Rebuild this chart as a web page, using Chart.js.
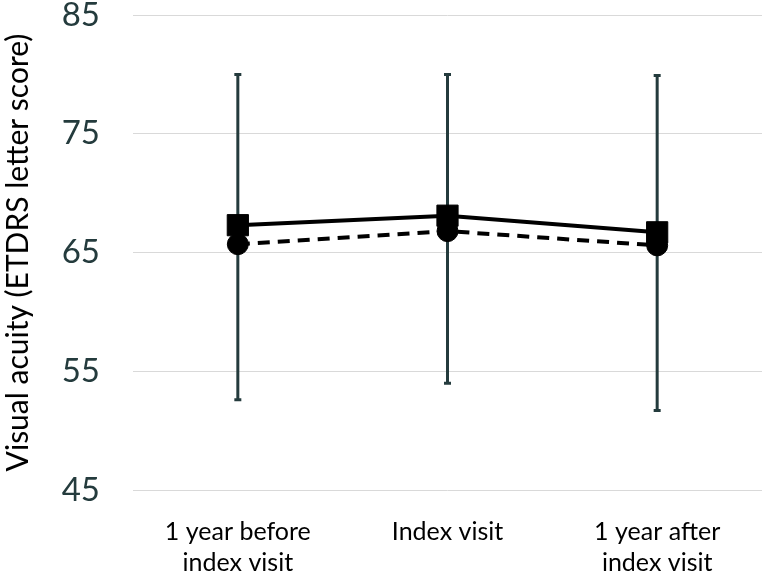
<!DOCTYPE html>
<html><head><meta charset="utf-8">
<script src="https://cdn.jsdelivr.net/npm/chart.js@4"></script>
<style>html,body{margin:0;padding:0;background:#fff;overflow:hidden}#w{width:762px;height:579px;position:relative}canvas{display:block}</style>
</head><body><div id="w"><canvas id="c"></canvas></div>
<script>
const categories = [["1 year before","index visit"], "Index visit", ["1 year after","index visit"]];
const solidValues = [67.3, 68.1, 66.7];
const dashedValues = [65.7, 66.8, 65.6];
const errLow = [52.6, 54.0, 51.7];
const errHigh = [80.0, 80.0, 79.9];
const yTicks = [45, 55, 65, 75, 85];

const errorBarPlugin = {
  id: 'errbars',
  beforeDatasetsDraw(chart) {
    const ctx = chart.ctx, x = chart.scales.x, y = chart.scales.y;
    ctx.save();
    ctx.strokeStyle = '#243b3d';
    ctx.lineWidth = 3;
    errLow.forEach((lo, i) => {
      const px = x.getPixelForValue(i);
      const yl = y.getPixelForValue(lo), yh = y.getPixelForValue(errHigh[i]);
      ctx.beginPath();
      ctx.moveTo(px, yl); ctx.lineTo(px, yh);
      ctx.moveTo(px - 3.5, yl); ctx.lineTo(px + 3.5, yl);
      ctx.moveTo(px - 3.5, yh); ctx.lineTo(px + 3.5, yh);
      ctx.stroke();
    });
    ctx.restore();
  }
};

new Chart(document.getElementById('c'), {
  type: 'line',
  data: {
    labels: categories,
    datasets: [
      { data: solidValues, borderColor: '#000', backgroundColor: '#000', borderWidth: 4,
        pointStyle: 'rect', pointRadius: 15, pointBorderWidth: 1, tension: 0 },
      { data: dashedValues, borderColor: '#000', backgroundColor: '#000', borderWidth: 4,
        borderDash: [12, 8], pointStyle: 'circle', pointRadius: 10.5, pointBorderWidth: 1, tension: 0 }
    ]
  },
  plugins: [errorBarPlugin],
  options: {
    responsive: true, maintainAspectRatio: false, animation: false,
    layout: { padding: 0, autoPadding: false },
    plugins: { legend: { display: false }, tooltip: { enabled: false } },
    scales: {
      x: {
        offset: true,
        afterFit(s) { s.height = 89; s.paddingLeft = 0; s.paddingRight = 0; },
        grid: { display: false, drawTicks: false },
        border: { display: false },
        ticks: { color: '#000', font: { family: 'Lato', size: 25, lineHeight: 1.25 }, padding: 26, maxRotation: 0 }
      },
      y: {
        min: 45, max: 85,
        afterBuildTicks(s) { s.ticks = yTicks.map(v => ({ value: v })); },
        afterFit(s) { s.width = 133; s.paddingTop = 15; s.paddingBottom = 0; },
        grid: { color: '#d9d9d9', lineWidth: 1, drawTicks: false },
        border: { display: false },
        ticks: { color: '#243b3d', font: { family: 'Lato', size: 33 }, padding: 33 },
        title: { display: true, text: 'Visual acuity (ETDRS letter score)', color: '#000',
                 font: { family: 'Lato', size: 30 }, padding: 0 }
      }
    }
  }
});
</script></body></html>
